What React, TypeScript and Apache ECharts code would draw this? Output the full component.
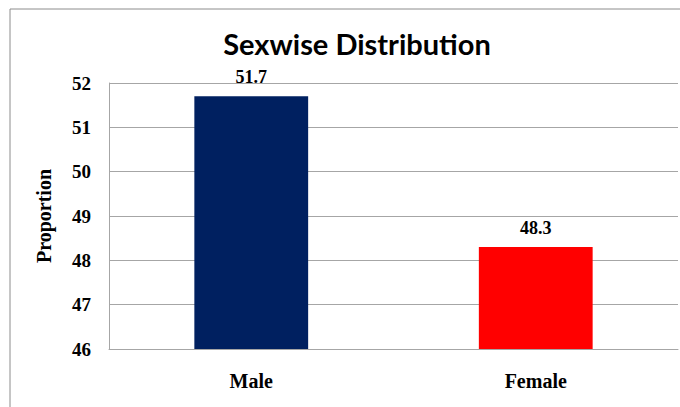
import React, { useEffect, useRef } from "react";
import * as echarts from "echarts";

const categories = ["Male", "Female"];
const values = [51.7, 48.3];
const barColors = ["#002060", "#FF0000"];
const titleText = "Sexwise Distribution";
const yAxisName = "Proportion";

export default function App() {
  const ref = useRef<HTMLDivElement>(null);
  useEffect(() => {
    document.body.style.margin = "0";
    const chart = echarts.init(ref.current!, null, { renderer: "svg" });
    chart.setOption({
      animation: false,
      backgroundColor: "#ffffff",
      title: {
        text: titleText,
        left: 352,
        top: 24,
        textAlign: "center",
        textStyle: {
          fontFamily: "Lato, 'Open Sans', sans-serif",
          fontWeight: "bold",
          fontSize: 29,
          color: "#000000",
        },
      },
      graphic: [
        {
          type: "rect",
          shape: { x: 10, y: 9, width: 700, height: 420 },
          style: { fill: "none", stroke: "#8c8c8c", lineWidth: 1 },
          silent: true,
        },
      ],
      grid: { left: 109, top: 83, right: 2, bottom: 58, containLabel: false },
      xAxis: {
        type: "category",
        data: categories,
        axisLine: { show: true, lineStyle: { color: "#a6a6a6", width: 1 } },
        axisTick: { show: false },
        axisLabel: {
          margin: 22,
          fontFamily: "'Liberation Serif', 'Times New Roman', serif",
          fontWeight: "bold",
          fontSize: 20,
          color: "#000000",
        },
      },
      yAxis: {
        type: "value",
        min: 46,
        max: 52,
        interval: 1,
        name: yAxisName,
        nameLocation: "middle",
        nameGap: 55,
        nameRotate: 90,
        nameTextStyle: {
          fontFamily: "'Liberation Serif', 'Times New Roman', serif",
          fontWeight: "bold",
          fontSize: 20,
          color: "#000000",
        },
        axisLine: { show: true, lineStyle: { color: "#a6a6a6", width: 1 } },
        axisTick: { show: false },
        splitLine: { show: true, lineStyle: { color: "#a6a6a6", width: 1 } },
        axisLabel: {
          margin: 18,
          fontFamily: "'Liberation Serif', 'Times New Roman', serif",
          fontWeight: "bold",
          fontSize: 19,
          color: "#000000",
        },
      },
      series: [
        {
          type: "bar",
          barWidth: "40%",
          data: values.map((v, i) => ({ value: v, itemStyle: { color: barColors[i] } })),
          label: {
            show: true,
            position: "top",
            distance: 10,
            fontFamily: "'Liberation Serif', 'Times New Roman', serif",
            fontWeight: "bold",
            fontSize: 18,
            color: "#000000",
          },
        },
      ],
    });
    return () => chart.dispose();
  }, []);
  return <div ref={ref} style={{ width: 680, height: 407 }} />;
}
